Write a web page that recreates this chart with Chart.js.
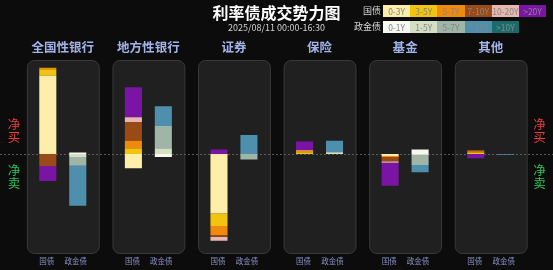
<!DOCTYPE html>
<html>
<head>
<meta charset="utf-8">
<script src="https://cdn.jsdelivr.net/npm/chart.js@4"></script>
<style>
  body { margin: 0; background: #0c0c0c; overflow: hidden; font-family: "Noto Sans CJK SC", "Noto Sans", sans-serif; }
  #wrap { position: relative; width: 553px; height: 270px; }
  #chart { position: absolute; left: 0; top: 0; }
  #title { position: absolute; left: 0; width: 553px; top: 2px; text-align: center; color: #fff; font-size: 16px; font-weight: bold; line-height: 20px; }
  #sub { position: absolute; left: 0; width: 553px; top: 23px; text-align: center; color: #d2d2d2; font-size: 9px; line-height: 10px; }
  .row { position: absolute; left: 340px; display: flex; height: 12px; }
  .name { width: 41px; text-align: right; color: #d8d8d8; font-size: 9px; line-height: 12px; margin-right: 2px; }
  .box { width: 27.2px; height: 12px; text-align: center; font-size: 8.5px; line-height: 12px; color: #868686; }
</style>
</head>
<body>
<div id="wrap">
  <canvas id="chart" width="553" height="270"></canvas>
  <div id="title">利率债成交势力图</div>
  <div id="sub">2025/08/11 00:00-16:30</div>
  <div class="row" id="row1" style="top:5px"></div>
  <div class="row" id="row2" style="top:21px"></div>
</div>
<script>
const institutions = ["全国性银行", "地方性银行", "证券", "保险", "基金", "其他"];
const bondTypes = ["国债", "政金债"];

// 国债 by tenor (net buy +, net sell -)
const gzTenors = ["0-3Y", "3-5Y", "5-7Y", "7-10Y", "10-20Y", ">20Y"];
const gz_0_3 = [78.3, -14.3, -59.3, 0, -2, 0];
const gz_3_5 = [6.4, 5.7, -12.7, 1.7, 0, 1.5];
const gz_5_7 = [1.6, 7.6, -9, 1.5, -1.3, 1.3];
const gz_7_10 = [-12, 18.7, -1.7, 0, -4, 1.2];
const gz_10_20 = [0, 4.7, -4, 0.8, -1.5, 0];
const gz_20 = [-15, 30, 4.5, 8.5, -23, -4.3];

// 政金债 by tenor
const zjTenors = ["0-1Y", "1-5Y", "5-7Y", "7-10Y", ">10Y"];
const zj_0_1 = [1.5, -3, 0, 0, 4.5, 0];
const zj_1_5 = [-3, 5.7, 0, 1.7, -1, 0];
const zj_5_7 = [-8.7, 22.3, -5.5, 0, -10, 0];
const zj_7_10 = [-40, 19.7, 19, 11.6, -7.3, -0.8];
const zj_10 = [0, 0, 0, 0, 0, 0];

const gzColors = ["#fdeeaa", "#f2c40f", "#ef8a0c", "#9a4a16", "#e8b8b0", "#7a14a4"];
const zjColors = ["#f8f8f2", "#d4e0c4", "#9fb5a8", "#4e8fae", "#1a6b6b"];

// legend
function fillRow(id, label, tenors, colors) {
  const row = document.getElementById(id);
  row.innerHTML = '<div class="name">' + label + '</div>' +
    tenors.map((t, i) => '<div class="box" style="background:' + colors[i] + '">' + t + '</div>').join("");
}
fillRow("row1", bondTypes[0], gzTenors, gzColors);
fillRow("row2", bondTypes[1], zjTenors, zjColors);

const gzData = [gz_0_3, gz_3_5, gz_5_7, gz_7_10, gz_10_20, gz_20];
const zjData = [zj_0_1, zj_1_5, zj_5_7, zj_7_10, zj_10];

const datasets = [];
gzData.forEach((d, i) => datasets.push({ label: "国债 " + gzTenors[i], data: d, backgroundColor: gzColors[i], stack: "gz" }));
zjData.forEach((d, i) => datasets.push({ label: "政金债 " + zjTenors[i], data: d, backgroundColor: zjColors[i], stack: "zj" }));

const panelPlugin = {
  id: "panels",
  beforeDatasetsDraw(chart) {
    const { ctx, chartArea, scales: { x, y } } = chart;
    const step = x.getPixelForValue(1) - x.getPixelForValue(0);
    ctx.save();
    institutions.forEach((name, i) => {
      const cx = x.getPixelForValue(i);
      const w = step * 0.84;
      ctx.beginPath();
      ctx.roundRect(cx - w / 2 + 0.5, chartArea.top + 0.5, w, chartArea.bottom - chartArea.top, 7);
      ctx.fillStyle = "#202020";
      ctx.fill();
      ctx.strokeStyle = "#3a3a3a";
      ctx.lineWidth = 1;
      ctx.stroke();

      ctx.fillStyle = "#a3b3ea";
      ctx.font = 'bold 12.5px "Noto Sans CJK SC"';
      ctx.textAlign = "center";
      ctx.textBaseline = "middle";
      ctx.fillText(name, cx, 47);
    });

    // zero line
    const y0 = Math.round(y.getPixelForValue(0)) + 0.5;
    ctx.setLineDash([2, 2]);
    ctx.strokeStyle = "#5c5c5c";
    ctx.beginPath();
    ctx.moveTo(0, y0);
    ctx.lineTo(chart.width, y0);
    ctx.stroke();
    ctx.restore();
  },
  afterDraw(chart) {
    const { ctx } = chart;
    ctx.save();
    ctx.textAlign = "center";
    ctx.textBaseline = "middle";
    ctx.font = '7.5px "Noto Sans CJK SC"';
    ctx.fillStyle = "#8890c4";
    const gzMeta = chart.getDatasetMeta(0);
    const zjMeta = chart.getDatasetMeta(gzData.length);
    institutions.forEach((n, i) => {
      ctx.fillText(bondTypes[0], gzMeta.data[i].x - 1, 261.5);
      ctx.fillText(bondTypes[1], zjMeta.data[i].x - 2, 261.5);
    });

    // 净买 / 净卖 side labels
    ctx.font = '12.5px "Noto Sans CJK SC"';
    [14, 539.5].forEach(xx => {
      ctx.fillStyle = "#e8413c";
      ctx.fillText("净", xx, 124.5);
      ctx.fillText("买", xx, 137.5);
      ctx.fillStyle = "#2ec55a";
      ctx.fillText("净", xx, 170.5);
      ctx.fillText("卖", xx, 183.5);
    });
    ctx.restore();
  }
};

new Chart(document.getElementById("chart"), {
  type: "bar",
  data: { labels: institutions, datasets: datasets },
  options: {
    responsive: false,
    animation: false,
    devicePixelRatio: 1,
    categoryPercentage: 0.7,
    barPercentage: 0.57,
    layout: { padding: { left: 20, right: 19.5, top: 60, bottom: 17 } },
    scales: {
      x: { display: false, stacked: true },
      y: { display: false, stacked: true, min: -99, max: 94 }
    },
    plugins: { legend: { display: false }, tooltip: { enabled: false } }
  },
  plugins: [panelPlugin]
});
</script>
</body>
</html>
